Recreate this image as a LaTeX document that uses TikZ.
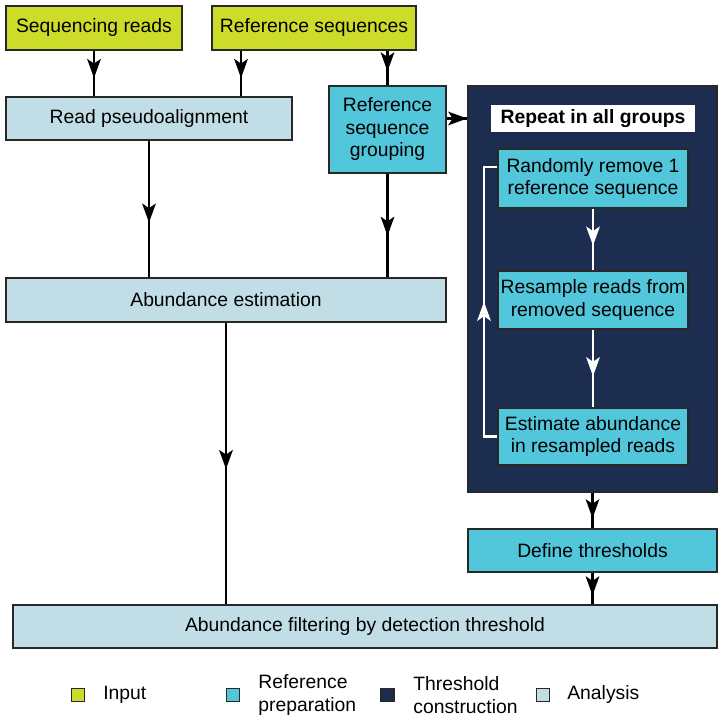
\documentclass[tikz,border=0pt]{standalone}
\usepackage{fontspec}
\setmainfont{Liberation Sans}
\usetikzlibrary{arrows.meta,decorations.markings}

\definecolor{inputcol}{RGB}{205,220,41}
\definecolor{refcol}{RGB}{82,198,218}
\definecolor{thrcol}{RGB}{28,45,80}
\definecolor{anacol}{RGB}{193,222,230}
\definecolor{edgecol}{RGB}{40,40,40}

\tikzset{
  box/.style={draw=edgecol, line width=0.8pt, inner sep=0pt, align=center, font=\fontsize{11}{12.8}\selectfont},
  inbox/.style={box, fill=inputcol},
  refbox/.style={box, fill=refcol},
  anabox/.style={box, fill=anacol},
  legkey/.style={draw=edgecol, line width=0.8pt, minimum size=0.26cm, inner sep=0pt},
  keytext/.style={anchor=west, inner sep=0pt, align=left, font=\fontsize{11}{13.5}\selectfont},
  flow/.style={line width=1.6pt, postaction={decorate}, decoration={markings, mark=at position #1 with {\arrow{Stealth[length=0.38cm,width=0.27cm,inset=0.09cm]}}}},
  flow/.default=0.6
}

\begin{document}
\begin{tikzpicture}
\useasboundingbox (0,0) rectangle (14.48,14.46);

\node[inbox, minimum width=3.52cm, minimum height=0.88cm] (reads) at (1.88,13.90) {Sequencing reads};
\node[inbox, minimum width=4.08cm, minimum height=0.88cm] (refseqs) at (6.28,13.90) {Reference sequences};
\node[anabox, minimum width=5.72cm, minimum height=0.86cm] (pseudo) at (2.98,12.09) {Read pseudoalignment};
\node[refbox, minimum width=2.34cm, minimum height=1.74cm] (grouping) at (7.75,11.87) {Reference\\sequence\\grouping};

% threshold construction block
\node[box, fill=thrcol, minimum width=4.98cm, minimum height=8.12cm] (repeat) at (11.85,8.68) {};
\node[box, draw=none, fill=white, minimum width=4.08cm, minimum height=0.54cm, font=\fontsize{11}{12.8}\selectfont\bfseries] (repeattitle) at (11.86,12.09) {Repeat in all groups};
\node[refbox, minimum width=3.8cm, minimum height=1.18cm] (remove) at (11.86,10.89) {Randomly remove 1\\reference sequence};
\node[refbox, minimum width=3.8cm, minimum height=1.16cm] (resample) at (11.86,8.46) {Resample reads from\\removed sequence};
\node[refbox, minimum width=3.8cm, minimum height=1.14cm] (estimate) at (11.86,5.73) {Estimate abundance\\in resampled reads};

\node[anabox, minimum width=8.8cm, minimum height=0.88cm] (abund) at (4.52,8.46) {Abundance estimation};
\node[refbox, minimum width=4.98cm, minimum height=0.86cm] (thresholds) at (11.85,3.45) {Define thresholds};
\node[anabox, minimum width=14.08cm, minimum height=0.86cm] (filtering) at (7.30,1.93) {Abundance filtering by detection threshold};

\coordinate (refx) at (4.82,0);
\draw[flow] (reads.south) -- (reads.south |- pseudo.north);
\draw[flow] (refseqs.south -| refx) -- (pseudo.north -| refx);
\draw[flow] (refseqs.south -| grouping) -- (grouping.north);
\draw[flow] (pseudo.south) -- (pseudo.south |- abund.north);
\draw[flow] (grouping.south) -- (grouping.south |- abund.north);
\draw[flow=1] (grouping.east |- repeattitle) -- (repeat.west |- repeattitle);
\draw[flow=0.52] (abund.south) -- (abund.south |- filtering.north);
\draw[flow=0.72] (repeat.south) -- (thresholds.north);
\draw[flow=0.72] (thresholds.south) -- (thresholds.south |- filtering.north);

% loop inside the block
\coordinate (loopx) at (9.68,0);
\coordinate (loopend) at ([yshift=0.23cm]remove.west);
\draw[flow, white] (remove.south) -- (resample.north);
\draw[flow, white] (resample.south) -- (estimate.north);
\draw[flow=0.5, white] (estimate.west) -- (estimate.west -| loopx) -- (loopend -| loopx) -- (loopend);

% legend
\node[legkey, fill=inputcol] (kinput) at (1.56,0.56) {};
\node[keytext] (tinput) at (2.06,0.56) {Input};
\node[legkey, fill=refcol] (kref) at (4.66,0.56) {};
\node[keytext] (tref) at (5.16,0.56) {Reference\\preparation};
\node[legkey, fill=thrcol] (kthr) at (7.75,0.56) {};
\node[keytext] (tthr) at (8.26,0.56) {Threshold\\construction};
\node[legkey, fill=anacol] (kana) at (10.86,0.56) {};
\node[keytext] (tana) at (11.34,0.56) {Analysis};

\end{tikzpicture}
\end{document}
